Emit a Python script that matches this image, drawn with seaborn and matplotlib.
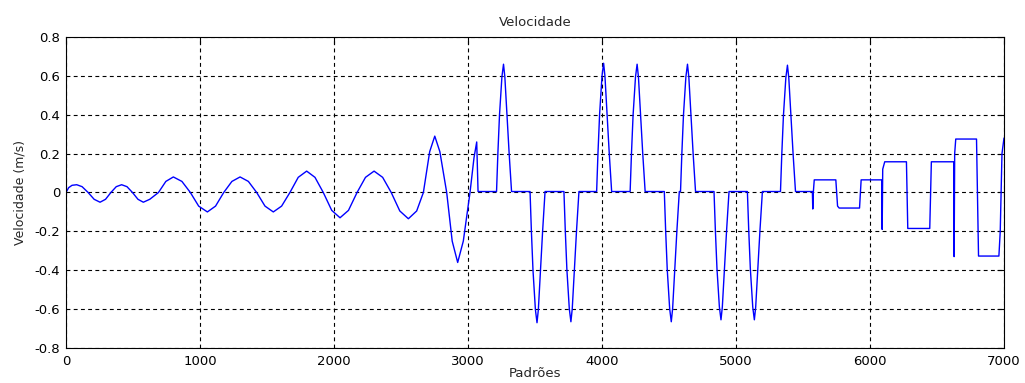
import numpy as np
import pandas as pd
import seaborn as sns
import matplotlib.pyplot as plt

# ---- data ----
# slow oscillation part (samples, m/s)
OSC_X = [0, 20, 45, 80, 120, 165, 210, 254, 295, 335, 375, 415, 455, 496, 537, 577,
         625, 690, 745, 801, 865, 928, 990, 1055, 1116, 1177, 1238, 1299, 1361, 1423,
         1485, 1547, 1609, 1671, 1733, 1796, 1858, 1920, 1983, 2045, 2108, 2172, 2235,
         2299, 2363, 2427, 2491, 2555, 2617, 2667, 2714, 2752, 2790, 2841, 2882, 2923,
         2965, 3015, 3045, 3065, 3075]
OSC_Y = [0.0, 0.025, 0.037, 0.04, 0.03, 0.0, -0.035, -0.05, -0.035, 0.0, 0.03, 0.04,
         0.03, 0.0, -0.035, -0.05, -0.035, 0.0, 0.057, 0.08, 0.057, 0.0, -0.07, -0.10,
         -0.07, 0.0, 0.057, 0.08, 0.057, 0.0, -0.07, -0.10, -0.07, 0.0, 0.078, 0.11,
         0.078, 0.0, -0.092, -0.13, -0.092, 0.0, 0.078, 0.11, 0.078, 0.0, -0.095,
         -0.135, -0.095, 0.0, 0.21, 0.29, 0.21, 0.0, -0.25, -0.36, -0.25, 0.0, 0.18,
         0.26, 0.005]

# pulses: peak position and peak value
PULSE_T = [3265, 3515, 3768, 4012, 4262, 4517, 4638, 4888, 5137, 5384]
PULSE_A = [0.66, -0.67, -0.665, 0.665, 0.66, -0.665, 0.66, -0.655, -0.655, 0.655]
# pulse profile (offset from peak, fraction of peak)
PROFILE_DT = [-52, -42, -30, -12, 0, 10, 26, 42, 60]
PROFILE_F = [0.0, 0.3, 0.6, 0.9, 1.0, 0.9, 0.6, 0.3, 0.0]
BASE = 0.005

# stepped part at the end
STEP_X = [5451, 5570, 5573, 5577, 5584, 5745, 5758, 5770, 5922, 5934, 6088, 6091,
          6095, 6110, 6272, 6282, 6446, 6458, 6625, 6628, 6632, 6640, 6795, 6810,
          6962, 6972, 6985, 7000]
STEP_Y = [0.005, 0.005, -0.085, 0.0, 0.065, 0.065, -0.07, -0.08, -0.08, 0.065,
          0.065, -0.19, 0.12, 0.158, 0.158, -0.185, -0.185, 0.158, 0.158, -0.33,
          0.2, 0.275, 0.275, -0.327, -0.327, -0.2, 0.2, 0.28]

X_TICKS = [0, 1000, 2000, 3000, 4000, 5000, 6000, 7000]
Y_TICKS = [-0.8, -0.6, -0.4, -0.2, 0, 0.2, 0.4, 0.6, 0.8]
Y_TICK_LABELS = ["-0.8", "-0.6", "-0.4", "-0.2", "0", "0.2", "0.4", "0.6", "0.8"]

# ---- build the trace ----
xs = list(OSC_X)
ys = list(OSC_Y)
for t, a in zip(PULSE_T, PULSE_A):
    for dt, f in zip(PROFILE_DT, PROFILE_F):
        xs.append(t + dt)
        ys.append(BASE + (a - BASE) * f)
xs += STEP_X
ys += STEP_Y
df = pd.DataFrame({"Padrões": xs, "Velocidade": ys})

sns.set_style("white")
plt.rcParams["font.family"] = ["DejaVu Sans"]

fig = plt.figure(figsize=(10.25, 3.83), dpi=100)
ax = fig.add_axes([0.0644, 0.0914, 0.9151, 0.812])

sns.lineplot(data=df, x="Padrões", y="Velocidade", sort=False, estimator=None,
             color="#0000ff", linewidth=1.0, ax=ax)

ax.set_xlim(0, 7000)
ax.set_ylim(-0.8, 0.8)
ax.set_xticks(X_TICKS)
ax.set_xticklabels([str(v) for v in X_TICKS])
ax.set_yticks(Y_TICKS)
ax.set_yticklabels(Y_TICK_LABELS)

ax.grid(True, color="black", linestyle=(0, (3.5, 3)), linewidth=0.8)
ax.tick_params(direction="in", length=5, width=0.8, top=True, right=True,
               labelsize=9.5, colors="black")
ax.tick_params(axis="x", pad=5)
ax.tick_params(axis="y", pad=4)
for s in ax.spines.values():
    s.set_color("black")
    s.set_linewidth(0.8)

ax.set_title("Velocidade", fontsize=9.5, pad=8)
ax.set_xlabel("Padrões", fontsize=9.5, labelpad=-1)
ax.set_ylabel("Velocidade (m/s)", fontsize=9, labelpad=6)

fig.savefig("out.png", dpi=100)
